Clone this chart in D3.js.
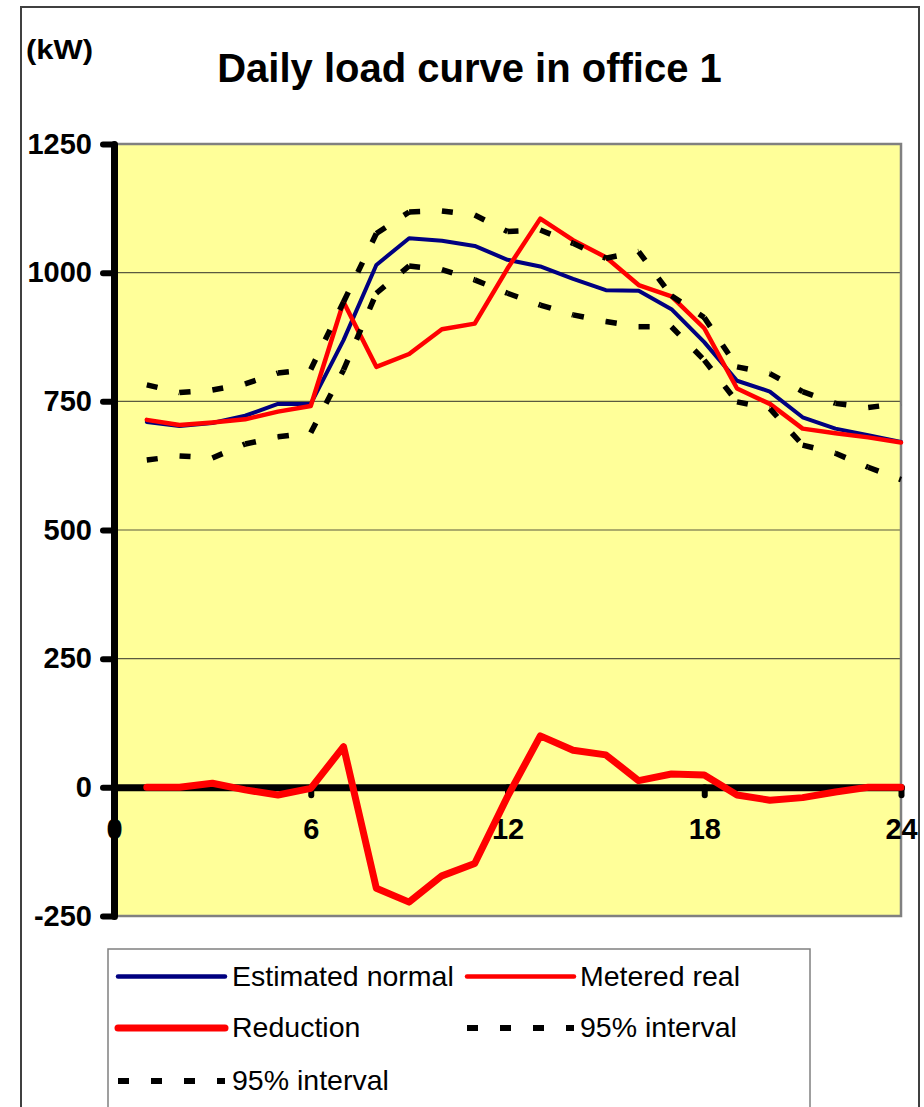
<!DOCTYPE html>
<html>
<head>
<meta charset="utf-8">
<script src="https://cdn.jsdelivr.net/npm/d3@7"></script>
<style>
  html, body { margin: 0; padding: 0; background: #fff; }
  svg { display: block; }
</style>
</head>
<body>
<script>
// ---------- data ----------
const hours = [1,2,3,4,5,6,7,8,9,10,11,12,13,14,15,16,17,18,19,20,21,22,23,24];
const estimatedNormal = [710,702,708,722,745,745,869,1015,1067,1062,1052,1025,1012,988,966,965,929,865,790,769,719,697,684,671];
const meteredReal     = [714,704,709,715,730,741,943,817,842,890,901,1008,1105,1063,1030,976,954,892,775,745,697,688,680,670];
const reduction       = [0,0,8,-5,-15,-2,79,-196,-223,-172,-148,-18,100,72,63,13,26,24,-15,-25,-20,-9,0,0];
const upper95         = [782,767,772,784,805,812,943,1076,1118,1120,1112,1080,1083,1057,1028,1041,955,913,817,804,769,746,738,746];
const lower95         = [636,644,640,667,681,689,811,960,1013,1006,986,960,937,918,905,895,895,830,749,736,665,649,622,598];
const xTicks = [0,6,12,18,24];
const yTicks = [-250,0,250,500,750,1000,1250];
const gridValues = [250,500,750,1000];
const titleText = "Daily load curve in office 1";
const unitText = "(kW)";
const legendLabels = ["Estimated normal","Metered real","Reduction","95% interval","95% interval"];

// ---------- layout ----------
const W = 924, H = 1107;
const plot = {left: 114, right: 901, top: 144, bottom: 916};
const FONT = "'Liberation Sans', Arial, Helvetica, sans-serif";

const svg = d3.select("body").append("svg").attr("width", W).attr("height", H);

svg.append("rect").attr("x",0).attr("y",0).attr("width",W).attr("height",H).attr("fill","#fff");
// outer chart frame
svg.append("rect").attr("x",21).attr("y",7).attr("width",898).attr("height",1200)
  .attr("fill","#fff").attr("stroke","#404040").attr("stroke-width",2);

const x = d3.scaleLinear().domain([0,24]).range([plot.left, plot.right]);
const y = d3.scaleLinear().domain([-250,1250]).range([plot.bottom, plot.top]);

// plot background
svg.append("rect").attr("x",plot.left).attr("y",plot.top)
  .attr("width",plot.right-plot.left).attr("height",plot.bottom-plot.top)
  .attr("fill","#FFFF99");

// gridlines
svg.append("g").selectAll("line").data(gridValues).join("line")
  .attr("x1",plot.left).attr("x2",plot.right)
  .attr("y1",d=>y(d)).attr("y2",d=>y(d))
  .attr("stroke","#5a5a40").attr("stroke-width",1.2);

// plot border (top, right, bottom)
svg.append("path")
  .attr("d",`M${plot.left},${plot.top}H${plot.right}V${plot.bottom}H${plot.left}`)
  .attr("fill","none").attr("stroke","#808080").attr("stroke-width",2.5);

// title & unit
svg.append("text").attr("x",469.5).attr("y",82).attr("text-anchor","middle")
  .attr("font-family",FONT).attr("font-weight","bold").attr("font-size",40)
  .attr("fill","#000").text(titleText);
svg.append("text").attr("x",26).attr("y",59)
  .attr("font-family",FONT).attr("font-weight","bold").attr("font-size",28)
  .attr("textLength",67).attr("lengthAdjust","spacingAndGlyphs")
  .attr("fill","#000").text(unitText);

const fmt = d => String(d);

// x axis (at zero)
const xAxis = svg.append("g").attr("transform",`translate(0,${y(0)})`)
  .call(d3.axisBottom(x).tickValues(xTicks).tickFormat(fmt).tickSize(8).tickPadding(23).tickSizeOuter(0));
xAxis.select(".domain").attr("stroke","#000").attr("stroke-width",7).attr("stroke-linecap","round");
xAxis.selectAll(".tick line").attr("stroke","#000").attr("stroke-width",6).attr("stroke-linecap","round");
xAxis.selectAll(".tick text").attr("font-family",FONT).attr("font-weight","bold")
  .attr("font-size",29).attr("fill","#000");

// y axis
const yAxis = svg.append("g").attr("transform",`translate(${plot.left},0)`)
  .call(d3.axisLeft(y).tickValues(yTicks).tickFormat(fmt).tickSize(11).tickPadding(11).tickSizeOuter(0));
yAxis.select(".domain").attr("stroke","#000").attr("stroke-width",7).attr("stroke-linecap","round");
yAxis.selectAll(".tick line").attr("stroke","#000").attr("stroke-width",6).attr("stroke-linecap","round");
yAxis.selectAll(".tick text").attr("font-family",FONT).attr("font-weight","bold")
  .attr("font-size",29).attr("fill","#000");

// ---------- series ----------
const line = d3.line().x(d=>x(d[0])).y(d=>y(d[1]));
function solid(values, color, width) {
  svg.append("path").datum(hours.map((h,i)=>[h, values[i]]))
    .attr("d", line).attr("fill","none").attr("stroke",color)
    .attr("stroke-width",width).attr("stroke-linejoin","round").attr("stroke-linecap","round");
}
function dashed(values) {
  const pts = hours.map((h,i)=>[h, values[i]]);
  const segs = d3.pairs(pts);
  svg.append("g").selectAll("path").data(segs).join("path")
    .attr("d", line).attr("fill","none").attr("stroke","#000")
    .attr("stroke-width",5.5).attr("stroke-dasharray","11,22");
}
solid(estimatedNormal, "#000080", 4);
solid(meteredReal, "#FF0000", 4.5);
solid(reduction, "#FF0000", 7);
dashed(upper95);
dashed(lower95);

// ---------- legend ----------
const lg = svg.append("g");
lg.append("rect").attr("x",108).attr("y",949).attr("width",702).attr("height",300)
  .attr("fill","#fff").attr("stroke","#808080").attr("stroke-width",1.5);
const legendItems = [
  {label: legendLabels[0], color:"#000080", width:4.5, dash:null, lx:118, tx:232, ly:976.5, ty:986, tl:223},
  {label: legendLabels[1], color:"#FF0000", width:4.5, dash:null, lx:467, tx:580, ly:976.5, ty:986, tl:166},
  {label: legendLabels[2], color:"#FF0000", width:7,   dash:null, lx:118, tx:232, ly:1028, ty:1037, tl:131},
  {label: legendLabels[3], color:"#000",    width:6,   dash:"11,22", lx:467, tx:580, ly:1028, ty:1037, tl:166},
  {label: legendLabels[4], color:"#000",    width:6,   dash:"11,22", lx:118, tx:232, ly:1081, ty:1090, tl:166}
];
legendItems.forEach(it=>{
  lg.append("line").attr("x1",it.lx).attr("x2",it.lx+107).attr("y1",it.ly).attr("y2",it.ly)
    .attr("stroke",it.color).attr("stroke-width",it.width)
    .attr("stroke-linecap", it.dash ? "butt" : "round")
    .attr("stroke-dasharray", it.dash);
  lg.append("text").attr("x",it.tx).attr("y",it.ty)
    .attr("font-family",FONT).attr("font-size",28.5).attr("fill","#000").text(it.label);
});
</script>
</body>
</html>
